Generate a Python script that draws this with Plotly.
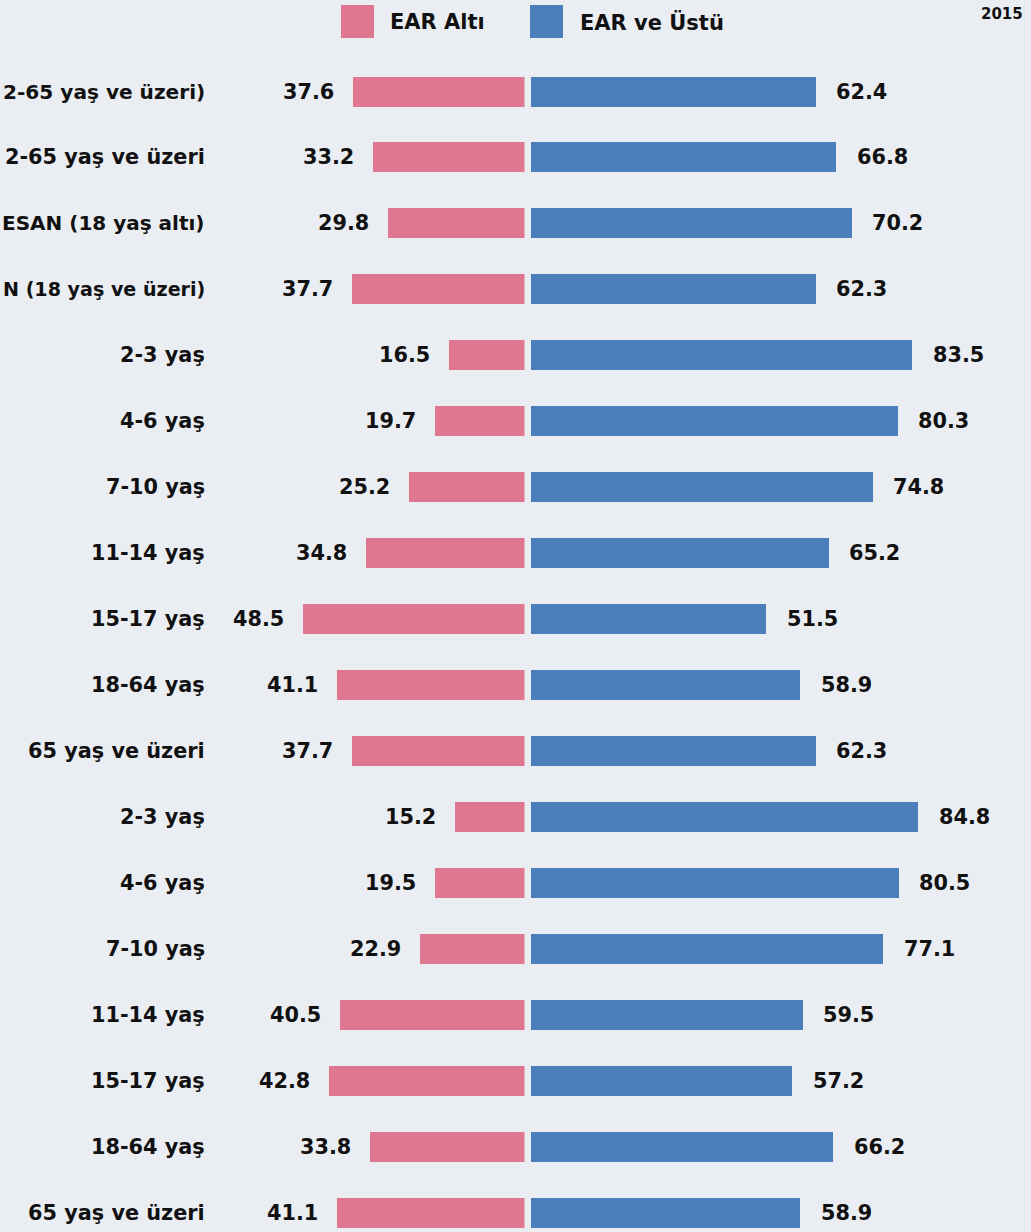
import plotly.graph_objects as go

# ---- data ----
categories = [
    "2-65 yaş ve üzeri)",
    "2-65 yaş ve üzeri",
    "ESAN (18 yaş altı)",
    "N (18 yaş ve üzeri)",
    "2-3 yaş", "4-6 yaş", "7-10 yaş", "11-14 yaş", "15-17 yaş", "18-64 yaş", "65 yaş ve üzeri",
    "2-3 yaş", "4-6 yaş", "7-10 yaş", "11-14 yaş", "15-17 yaş", "18-64 yaş", "65 yaş ve üzeri",
]
ear_alti = [37.6, 33.2, 29.8, 37.7, 16.5, 19.7, 25.2, 34.8, 48.5, 41.1, 37.7,
            15.2, 19.5, 22.9, 40.5, 42.8, 33.8, 41.1]
ear_ustu = [62.4, 66.8, 70.2, 62.3, 83.5, 80.3, 74.8, 65.2, 51.5, 58.9, 62.3,
            84.8, 80.5, 77.1, 59.5, 57.2, 66.2, 58.9]
series_names = ["EAR Altı", "EAR ve Üstü"]
year_label = "2015"

# ---- layout geometry ----
W, H = 1031, 1232
S = 4.567          # px per unit
P0 = 524.5         # zero of pink axis (px)
B0 = 530.5         # zero of blue axis (px)
ROW0, ROWSTEP = 91.5, 65.95

PINK = "#E07791"
BLUE = "#4A7FBC"
TXT = "#111111"
FONT = "DejaVu Sans"
BASE_SIZE = 20.8
# long labels at the left edge are shrunk slightly so they stay in view
label_size_override = {0: 20.1, 2: 20.0, 3: 19.1}

ys = list(range(len(categories)))

fig = go.Figure()
fig.add_trace(go.Bar(y=ys, x=ear_alti, orientation="h", marker_color=PINK,
                     marker_line_width=0, width=0.455, name=series_names[0],
                     xaxis="x", yaxis="y", showlegend=False))
fig.add_trace(go.Bar(y=ys, x=ear_ustu, orientation="h", marker_color=BLUE,
                     marker_line_width=0, width=0.455, name=series_names[1],
                     xaxis="x2", yaxis="y", showlegend=False))

ann = []
lblfont = dict(family=FONT, size=BASE_SIZE, color=TXT, weight="bold")
for i, (c, a, b) in enumerate(zip(categories, ear_alti, ear_ustu)):
    cf = dict(lblfont, size=label_size_override.get(i, BASE_SIZE))
    ann.append(dict(x=207 / W, xref="paper", y=i, yref="y", text=c,
                    xanchor="right", yanchor="middle", showarrow=False, font=cf))
    ann.append(dict(x=a, xref="x", y=i, yref="y", text=f"{a:.1f}",
                    xanchor="right", yanchor="middle", xshift=-17, showarrow=False, font=lblfont))
    ann.append(dict(x=b, xref="x2", y=i, yref="y", text=f"{b:.1f}",
                    xanchor="left", yanchor="middle", xshift=19, showarrow=False, font=lblfont))

# legend
legfont = dict(family=FONT, size=21, color=TXT, weight="bold")
shapes = []
for (x0, col, name, tx) in [(341, PINK, series_names[0], 388), (530, BLUE, series_names[1], 578)]:
    shapes.append(dict(type="rect", xref="paper", yref="paper",
                       x0=x0 / W, x1=(x0 + 33) / W, y0=1 - 38 / H, y1=1 - 5 / H,
                       fillcolor=col, line_width=0))
    ann.append(dict(x=tx / W, xref="paper", y=1 - 22 / H, yref="paper", text=name,
                    xanchor="left", yanchor="middle", showarrow=False, font=legfont))
ann.append(dict(x=1025 / W, xref="paper", y=1 - 14 / H, yref="paper", text=year_label,
                xanchor="right", yanchor="middle", showarrow=False,
                font=dict(family=FONT, size=15, color=TXT, weight="bold")))

ytop = -ROW0 / ROWSTEP
ybot = (H - ROW0) / ROWSTEP

fig.update_layout(
    width=W, height=H, margin=dict(l=0, r=0, t=0, b=0),
    paper_bgcolor="#eaeef3", plot_bgcolor="rgba(0,0,0,0)",
    xaxis=dict(domain=[0, P0 / W], range=[P0 / S, 0], visible=False, fixedrange=True),
    xaxis2=dict(domain=[B0 / W, 1], range=[0, (W - B0) / S], visible=False, anchor="y"),
    yaxis=dict(range=[ybot, ytop], visible=False),
    bargap=0, annotations=ann, shapes=shapes, showlegend=False,
)

fig.write_html("out.html")
